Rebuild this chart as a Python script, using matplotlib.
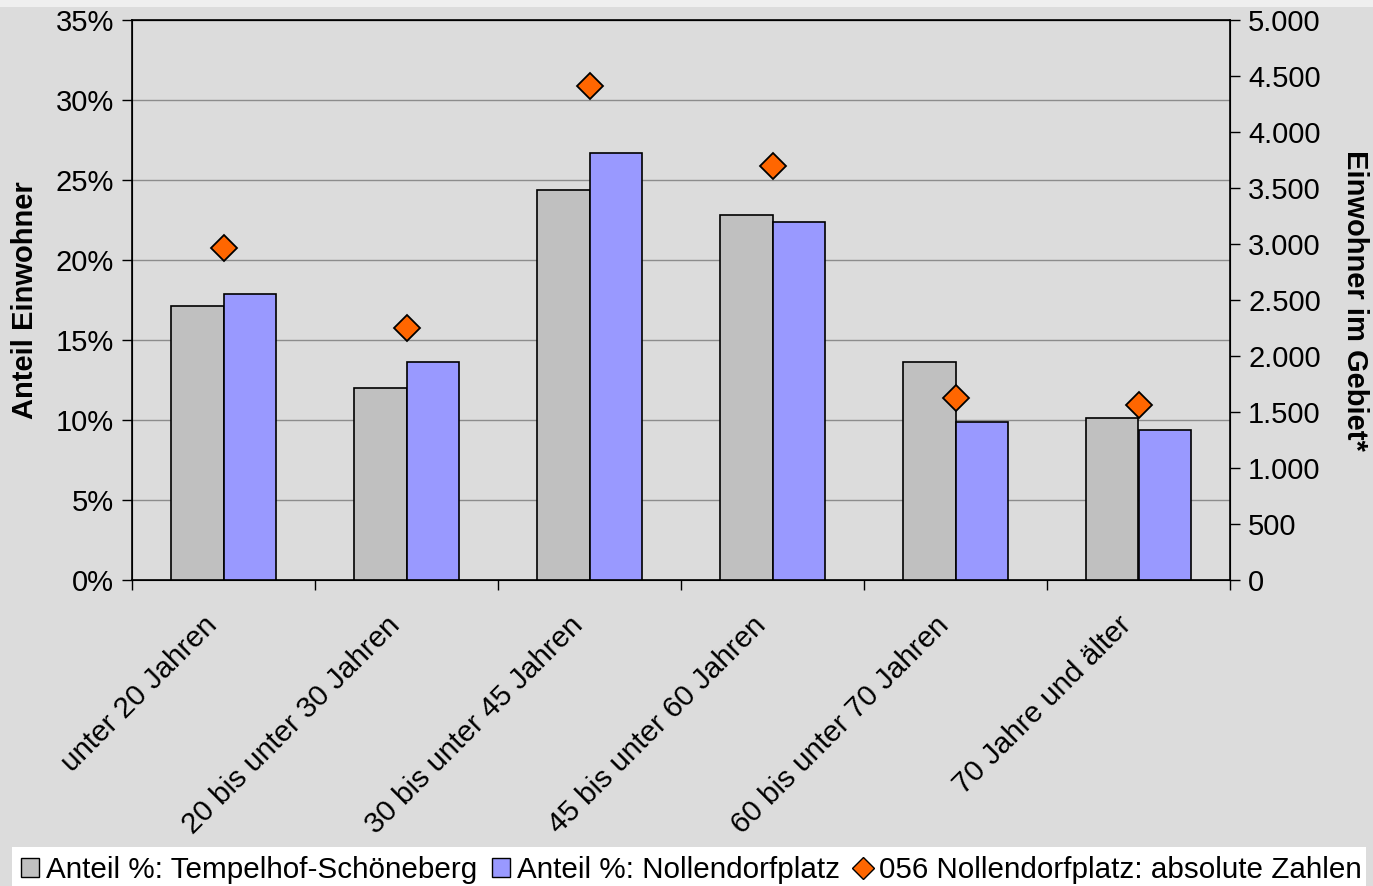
import matplotlib
matplotlib.use("Agg")
import matplotlib.pyplot as plt
import matplotlib.transforms as mtransforms
import numpy as np
from matplotlib.ticker import FuncFormatter, MultipleLocator
from matplotlib.lines import Line2D
from matplotlib.patches import Patch, Rectangle

plt.rcParams['font.family'] = ['Liberation Sans', 'DejaVu Sans']

categories = ["unter 20 Jahren", "20 bis unter 30 Jahren", "30 bis unter 45 Jahren",
              "45 bis unter 60 Jahren", "60 bis unter 70 Jahren", "70 Jahre und älter"]
anteil_ts = [17.1, 12.0, 24.4, 22.8, 13.6, 10.1]
anteil_np = [17.9, 13.6, 26.7, 22.4, 9.9, 9.4]
absolut_np = [2965, 2250, 4410, 3695, 1625, 1565]
label_ts = "Anteil %: Tempelhof-Schöneberg"
label_np = "Anteil %: Nollendorfplatz"
label_abs = "056 Nollendorfplatz: absolute Zahlen"

W, H = 1373, 886
fig = plt.figure(figsize=(W/100, H/100), dpi=100, facecolor='#DCDCDC')
fig.patches.append(Rectangle((0, 1 - 7/H), 1, 7/H, transform=fig.transFigure,
                             facecolor='#EFEFEF', edgecolor='none', zorder=-1))
fig.patches.append(Rectangle((12/W, 0), (1366-12)/W, 1 - 847/H, transform=fig.transFigure,
                             facecolor='white', edgecolor='none', zorder=-1))
ax = fig.add_axes([132/W, 1 - 580/H, (1230-132)/W, (580-20)/H])
ax.set_facecolor('#DCDCDC')

x = np.arange(len(categories))
bw = 0.287
ax.bar(x - bw/2, anteil_ts, bw, color='#C0C0C0', edgecolor='black', linewidth=1.2, zorder=3)
ax.bar(x + bw/2, anteil_np, bw, color='#9999FF', edgecolor='black', linewidth=1.2, zorder=3)
ax.set_xlim(-0.5, len(categories) - 0.5)
ax.set_ylim(0, 35)
ax.yaxis.set_major_locator(MultipleLocator(5))
ax.yaxis.set_major_formatter(FuncFormatter(lambda v, p: f"{v:.0f}%"))
ax.grid(axis='y', color='#8C8C8C', linewidth=1, zorder=0)
ax.set_axisbelow(True)
ax.set_xticks(np.arange(len(categories) + 1) - 0.5)
ax.set_xticklabels([])
ax.tick_params(axis='x', direction='out', length=7, width=1)
ax.tick_params(axis='y', direction='out', length=7, width=1, labelsize=21, pad=6)

offset = mtransforms.ScaledTranslation(-11/100, -41/100, fig.dpi_scale_trans)
for xi, cat in zip(x, categories):
    ax.text(xi, 0, cat, transform=ax.get_xaxis_transform() + offset, rotation=45,
            ha='right', va='center', rotation_mode='anchor', fontsize=21.3)

for s in ['top', 'bottom', 'left', 'right']:
    ax.spines[s].set_color('black')
    ax.spines[s].set_linewidth(1.2)
ax.set_ylabel("Anteil Einwohner", fontsize=21, fontweight='bold', labelpad=12)

ax2 = ax.twinx()
ax2.set_ylim(0, 5000)
ax2.yaxis.set_major_locator(MultipleLocator(500))
ax2.yaxis.set_major_formatter(FuncFormatter(lambda v, p: f"{int(v):,}".replace(',', '.')))
ax2.tick_params(axis='y', direction='out', length=7, width=1, labelsize=21, pad=6)
ax2.plot(x, absolut_np, linestyle='none', marker='D', markersize=13, markerfacecolor='#FF6600',
         markeredgecolor='black', markeredgewidth=1.3, zorder=5)
ax2.set_ylabel("Einwohner im Gebiet*", fontsize=21, fontweight='bold', rotation=-90, labelpad=35)

handles = [Patch(facecolor='#C0C0C0', edgecolor='black', label=label_ts),
           Patch(facecolor='#9999FF', edgecolor='black', label=label_np),
           Line2D([], [], linestyle='none', marker='D', markersize=11, markerfacecolor='#FF6600',
                  markeredgecolor='black', label=label_abs)]
leg = fig.legend(handles=handles, loc='upper left', bbox_to_anchor=(15/W, 1 - 850/H), ncol=3,
                 fontsize=21.3, frameon=False, handlelength=0.6, handleheight=0.6,
                 handletextpad=0.24, columnspacing=0.5, borderpad=0.2, borderaxespad=0)

fig.savefig("out.png", dpi=100, facecolor=fig.get_facecolor())
